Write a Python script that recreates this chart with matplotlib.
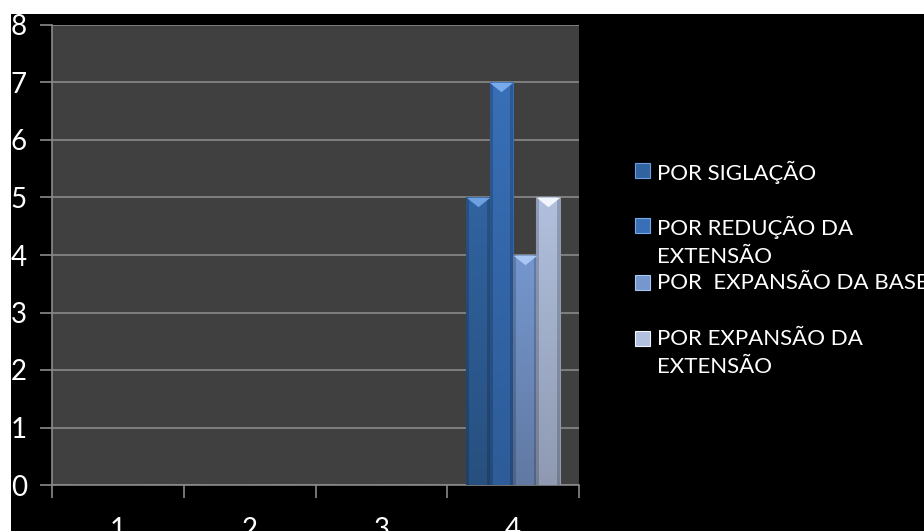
import matplotlib
matplotlib.use("Agg")
import matplotlib.pyplot as plt
import numpy as np
from matplotlib.patches import Rectangle
from matplotlib.path import Path
from matplotlib.colors import LinearSegmentedColormap

# --- data ---
categories = ["1", "2", "3", "4"]
series_names = ["POR SIGLAÇÃO", "POR REDUÇÃO DA\nEXTENSÃO",
                "POR  EXPANSÃO DA BASE", "POR EXPANSÃO DA\nEXTENSÃO"]
siglacao = [0, 0, 0, 5]
reducao = [0, 0, 0, 7]
expansao_base = [0, 0, 0, 4]
expansao_ext = [0, 0, 0, 5]
series_values = [siglacao, reducao, expansao_base, expansao_ext]

# bar colours (top, bottom of the gradient) and the bevel tip colour
colors_top = ["#3163A0", "#386FB6", "#7597CE", "#B1C0DE"]
colors_bot = ["#27507F", "#2D5C98", "#6179A3", "#8F9AB2"]
tip_colors = ["#6E9FE0", "#79AAEC", "#A9C6F4", "#F2F5FC"]

plt.rcParams['font.family'] = ['Lato', 'DejaVu Sans']

# wide, shallow chevron used as the bevel highlight on the bar tops
chevron = Path([(-1, 0.4), (1, 0.4), (0, -0.4), (-1, 0.4)],
               [Path.MOVETO, Path.LINETO, Path.LINETO, Path.CLOSEPOLY])

fig = plt.figure(figsize=(9.24, 5.31), dpi=100)
fig.patch.set_facecolor("white")
# black slide background (white margin at top and left)
fig.patches.append(Rectangle((11 / 924, 0), 1, 1 - 14 / 531, transform=fig.transFigure,
                             facecolor="black", edgecolor="none", zorder=-5))

ax = fig.add_axes([52 / 924, 46 / 531, 527 / 924, 460 / 531])
ax.set_facecolor("#404040")

x = np.arange(len(categories))
bar_w = 0.177
n = len(series_values)
for i, vals in enumerate(series_values):
    offs = (i - (n - 1) / 2) * bar_w
    bars = ax.bar(x + offs, vals, width=bar_w, color=colors_top[i],
                  edgecolor=colors_bot[i], linewidth=0.8, zorder=3)
    cmap = LinearSegmentedColormap.from_list("g%d" % i, [colors_bot[i], colors_top[i]])
    for b in bars:
        h = b.get_height()
        if h <= 0:
            continue
        x0, w = b.get_x(), b.get_width()
        grad = np.linspace(0, 1, 100).reshape(-1, 1)
        im = ax.imshow(grad, extent=[x0, x0 + w, 0, h], origin="lower",
                       aspect="auto", cmap=cmap, zorder=3.5)
        im.set_clip_path(b)
        # darker side shading
        ax.add_patch(Rectangle((x0, 0), w * 0.12, h, facecolor="black",
                               alpha=0.18, edgecolor="none", zorder=4))
        ax.add_patch(Rectangle((x0 + w * 0.88, 0), w * 0.12, h, facecolor="black",
                               alpha=0.18, edgecolor="none", zorder=4))
        # bevel tip at top of the bar
        ax.plot(x0 + w / 2, h - 0.08, marker=chevron, markersize=17,
                markerfacecolor=tip_colors[i], markeredgecolor="none", zorder=5)

ax.set_xlim(-0.5, len(categories) - 0.5)
ax.set_ylim(0, 8)
ax.set_yticks(range(0, 9))
ax.yaxis.grid(True, color="#8A8A8A", linewidth=1.2, zorder=1)
ax.set_axisbelow(True)

ax.set_xticks(np.arange(-0.5, len(categories), 1.0))
ax.set_xticklabels([])
ax.set_xticks(x, minor=True)
ax.set_xticklabels(categories, minor=True)
ax.tick_params(axis="x", which="major", length=9, width=1.2, color="#8A8A8A", direction="out")
ax.tick_params(axis="x", which="minor", length=0, pad=23, labelsize=20, labelcolor="white")
ax.tick_params(axis="y", length=9, width=1.2, color="#8A8A8A", direction="out",
               labelsize=20, labelcolor="white", pad=9)

for s in ["top", "right"]:
    ax.spines[s].set_visible(False)
for s in ["left", "bottom"]:
    ax.spines[s].set_color("#8A8A8A")
    ax.spines[s].set_linewidth(1.2)

# legend drawn as figure text, one entry per series
legend_y = [170, 225, 282, 338]
for i, name in enumerate(series_names):
    yy = 1 - legend_y[i] / 531
    fig.patches.append(Rectangle((635 / 924, yy - 7.5 / 531), 15 / 924, 15 / 531,
                                 transform=fig.transFigure, facecolor=colors_top[i],
                                 edgecolor=tip_colors[i], linewidth=0.8, zorder=2))
    fig.text(657 / 924, yy + 9 / 531, name, color="white", fontsize=16,
             ha="left", va="top", linespacing=1.5, zorder=3)

fig.savefig("out.png", dpi=100, facecolor=fig.get_facecolor())
